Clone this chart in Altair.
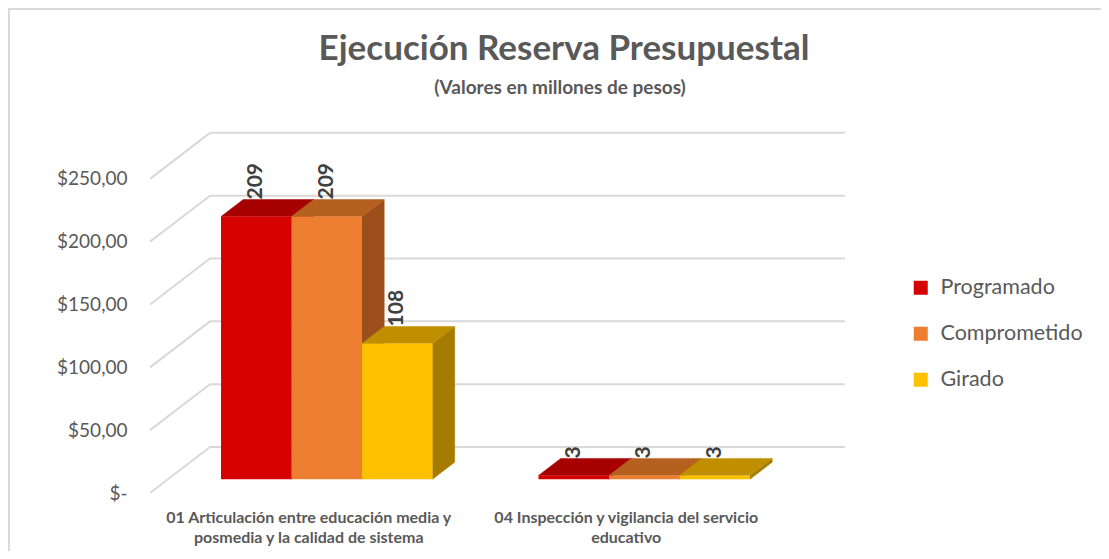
import altair as alt
import pandas as pd

# ---------------- data ----------------
TITLE = "Ejecución Reserva Presupuestal"
SUBTITLE = "(Valores en millones de pesos)"
CATEGORIES = [
    "01 Articulación entre educación media y\nposmedia y la calidad de sistema",
    "04 Inspección y vigilancia del servicio\neducativo",
]
SERIES = ["Programado", "Comprometido", "Girado"]
PROGRAMADO = [209, 3]
COMPROMETIDO = [209, 3]
GIRADO = [108, 3]
TICK_VALUES = [0, 50, 100, 150, 200, 250]
TICK_LABELS = ["$-", "$50,00", "$100,00", "$150,00", "$200,00", "$250,00"]

# ---------------- style ----------------
FRONT_COLORS = ["#D50000", "#ED7D31", "#FFC000"]
TOP_COLORS = ["#A60000", "#B5601F", "#BF8F00"]
SIDE_COLORS = ["#8A0000", "#9C4E1B", "#A67C00"]
GRID = "#D9D9D9"
TEXT = "#595959"
FONT = "Lato"

# pseudo-3D geometry (in scale units)
N = len(CATEGORIES)
X_MIN = -0.5
DEPTH_X = 0.189      # wall depth along x (category units)
DEPTH_Y = 36.6       # wall depth along y (value units)
F, B = 0.30, 0.67    # bar front / back depth fraction
BAR_W = 0.222
Y_MAX = 300
W, H = 695, 377

values = {"Programado": PROGRAMADO, "Comprometido": COMPROMETIDO, "Girado": GIRADO}

front, top, side, labels = [], [], [], []
for gi, cat in enumerate(CATEGORIES):
    for si, s in enumerate(SERIES):
        v = values[s][gi]
        bid = f"{gi}-{si}"
        x0 = gi - 1.5 * BAR_W + si * BAR_W
        x1 = x0 + BAR_W
        front.append(dict(id=bid, series=s, x=x0 + F * DEPTH_X, x2=x1 + F * DEPTH_X,
                          y=F * DEPTH_Y, y2=v + F * DEPTH_Y))
        for d in (F, B):
            top.append(dict(id=bid, col=TOP_COLORS[si], y=v + d * DEPTH_Y,
                            x=x0 + d * DEPTH_X, x2=x1 + d * DEPTH_X))
            side.append(dict(id=bid, col=SIDE_COLORS[si], x=x1 + d * DEPTH_X,
                             y=d * DEPTH_Y, y2=v + d * DEPTH_Y))
        labels.append(dict(x=(x0 + x1) / 2 + F * DEPTH_X, y=v + B * DEPTH_Y, text=str(v)))

front_df = pd.DataFrame(front)
top_df = pd.DataFrame(top)
side_df = pd.DataFrame(side)
label_df = pd.DataFrame(labels)
cat_df = pd.DataFrame(dict(x=list(range(N)), text=CATEGORIES))
back_df = pd.DataFrame(dict(x=X_MIN + DEPTH_X, x2=X_MIN + N + DEPTH_X,
                            y=[t + DEPTH_Y for t in TICK_VALUES]))
wall_df = pd.DataFrame(dict(x=X_MIN, x2=X_MIN + DEPTH_X, y=TICK_VALUES,
                            y2=[t + DEPTH_Y for t in TICK_VALUES]))

NBSP = "\u00a0"
expr = "''"
for tv, tl in zip(reversed(TICK_VALUES), reversed(TICK_LABELS)):
    lab = tl + NBSP * 3 if tl == "$-" else tl
    expr = f"datum.value === {tv} ? '{lab}' : ({expr})"

XS = alt.Scale(domain=[X_MIN, X_MIN + N + DEPTH_X], nice=False, zero=False)
YS = alt.Scale(domain=[0, Y_MAX], nice=False, zero=False)
Y_AXIS = alt.Axis(values=TICK_VALUES, labelExpr=expr, domain=False, ticks=False, grid=False,
                  labelPadding=23, labelFont=FONT, labelFontSize=19, labelColor=TEXT, title=None)


def X(f="x"):
    return alt.X(f"{f}:Q", scale=XS, axis=None)


def Y(f="y"):
    return alt.Y(f"{f}:Q", scale=YS, axis=Y_AXIS)


back = alt.Chart(back_df).mark_rule(color=GRID, strokeWidth=2).encode(
    x=X(), x2="x2:Q", y=Y())
wall = alt.Chart(wall_df).mark_rule(color=GRID, strokeWidth=2).encode(
    x=X(), x2="x2:Q", y=Y(), y2="y2:Q")

sides = alt.Chart(side_df).mark_area(strokeWidth=0.5).encode(
    x=X(), y=Y(), y2="y2:Q",
    fill=alt.Fill("col:N", scale=None), stroke=alt.Stroke("col:N", scale=None),
    detail="id:N")
tops = alt.Chart(top_df).mark_area(orient="horizontal", strokeWidth=0.5).encode(
    y=Y(), x=X(), x2="x2:Q",
    fill=alt.Fill("col:N", scale=None), stroke=alt.Stroke("col:N", scale=None),
    detail="id:N")
fronts = alt.Chart(front_df).mark_rect().encode(
    x=X(), x2="x2:Q", y=Y(), y2="y2:Q",
    color=alt.Color("series:N", scale=alt.Scale(domain=SERIES, range=FRONT_COLORS),
                    legend=alt.Legend(title=None, orient="none", legendX=760, legendY=161,
                                      symbolType="square", symbolSize=196, symbolStrokeWidth=0,
                                      labelFont=FONT, labelFontSize=21.5, labelColor=TEXT,
                                      labelOffset=9, rowPadding=23, padding=0)))

value_text = alt.Chart(label_df).mark_text(
    angle=270, align="left", baseline="middle", font=FONT, fontSize=21,
    fontWeight="bold", color="#404040").encode(x=X(), y=Y(), text="text:N")

cat_text = alt.Chart(cat_df).mark_text(
    baseline="top", align="center", lineBreak="\n", lineHeight=20, font=FONT,
    fontSize=16, fontWeight="bold", color=TEXT).encode(
    x=X(), y=alt.value(394), text="text:N")

title_df = pd.DataFrame({"t": [TITLE]})
sub_df = pd.DataFrame({"t": [SUBTITLE]})
title_text = alt.Chart(title_df).mark_text(
    align="center", baseline="alphabetic", font=FONT, fontSize=35, fontWeight="bold",
    color=TEXT).encode(x=alt.value(414), y=alt.value(-56), text="t:N")
sub_text = alt.Chart(sub_df).mark_text(
    align="center", baseline="alphabetic", font=FONT, fontSize=19, fontWeight="bold",
    color=TEXT).encode(x=alt.value(410), y=alt.value(-22), text="t:N")

border = alt.Chart(pd.DataFrame({"a": [0]})).mark_rect(
    fillOpacity=0, stroke=GRID, strokeWidth=2).encode(
    x=alt.value(-141), x2=alt.value(980), y=alt.value(-107), y2=alt.value(480))

chart = alt.layer(border, back, wall, sides, tops, fronts, value_text, cat_text,
                  title_text, sub_text).properties(
    width=W, height=H,
    padding={"left": 142, "top": 108, "right": 256, "bottom": 58},
    autosize=alt.AutoSizeParams(type="none"),
    background="white",
).configure_view(stroke=None)

chart.save("out.html", embed_options={"renderer": "svg", "actions": False})
